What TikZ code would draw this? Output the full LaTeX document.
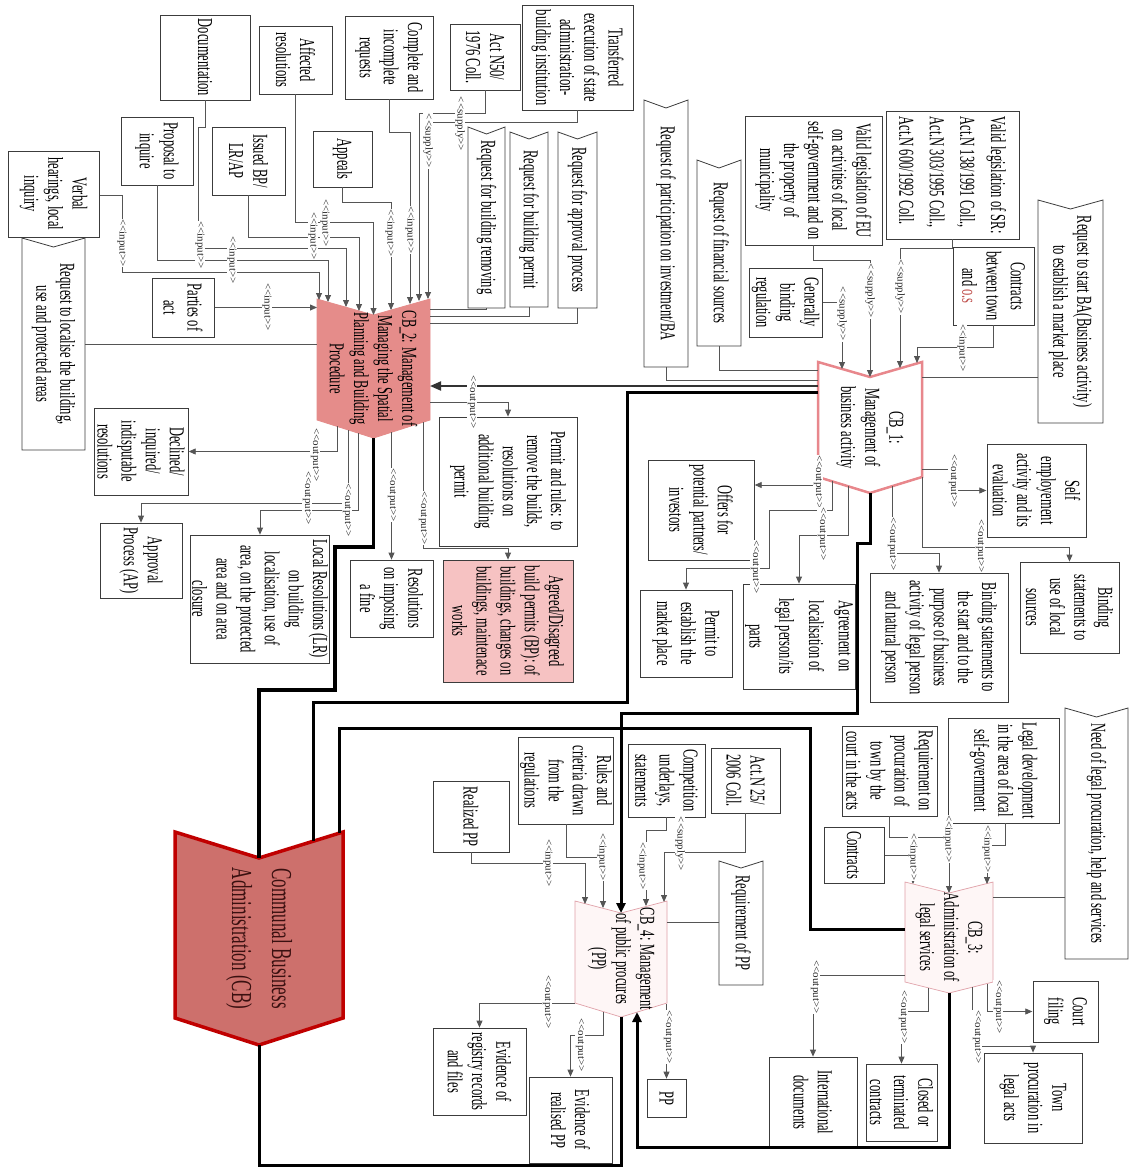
\documentclass[tikz,border=0pt]{standalone}
\usepackage{fontspec}
\setmainfont{Liberation Serif}
\usetikzlibrary{arrows.meta, calc, backgrounds}
\definecolor{cbfill}{HTML}{CD706C}
\definecolor{cbdraw}{HTML}{C00000}
\definecolor{cbtwofill}{HTML}{E58C8A}
\definecolor{cbonedraw}{HTML}{E8878C}
\definecolor{lightfill}{HTML}{FEF6F6}
\definecolor{lightdraw}{HTML}{E0A0A8}
\definecolor{agreedfill}{HTML}{F6C2C2}
\definecolor{cbtext}{HTML}{3A1010}
\definecolor{osred}{HTML}{C0504D}
\definecolor{boxgray}{HTML}{3C3C3C}
\definecolor{linegray}{HTML}{555555}

\begin{document}
\begin{tikzpicture}[x=1pt, y=-1pt,
  box/.style={draw=boxgray, fill=white, line width=0.8pt, rotate=-90, yscale=1.7,
    align=center, inner sep=1pt, font={\fontsize{12.5}{14.2}\selectfont}},
  req/.style={rotate=-90, yscale=1.7, align=center, inner sep=0pt, outer sep=0pt,
    font={\fontsize{12.5}{14.2}\selectfont}},
  chev/.style={rotate=-90, yscale=1.7, align=center, inner sep=0pt, outer sep=0pt,
    font={\fontsize{12.5}{14.2}\selectfont}},
  sz/.style 2 args={minimum width=#2, minimum height=#1/1.7},
  lab/.style={rotate=-90, yscale=0.95, fill=white, inner sep=0.6pt, text=black!85,
    font={\fontsize{11}{12}\selectfont}},
  conn/.style={draw=linegray, line width=0.8pt},
  arr/.style={conn, -{Triangle[length=7pt, width=6pt]}},
  bus/.style={line width=3pt, black},
  busarr/.style={bus, -{Triangle[length=10pt, width=9pt]}},
  bigarr/.style={draw=black!80, line width=2pt, -{Triangle[length=11pt, width=9pt]}}]

\useasboundingbox (0,0) rectangle (1134,1167);

\node[box, sz={90}{85}] (docu) at (205,57.5) {Documentation};
\node[box, sz={73}{68}] (affect) at (295.5,60) {Affected\\resolutions};
\node[box, sz={88}{83}] (compl) at (389,57.5) {Complete and\\incomplete\\requests};
\node[box, sz={70}{66}] (act50) at (485,57) {Act N50/\\1976 Coll.};
\node[box, sz={111}{105}] (transf) at (577.5,57.5) {Transferred\\execution of state\\administration-\\building institution};
\node[box, sz={72}{68}] (propo) at (157,151) {Proposal to\\inquire};
\node[box, sz={73}{68}] (issued) at (248.5,161) {Issued BP/\\LR/AP};
\node[box, sz={59}{56}] (appeal) at (342.5,159) {Appeals};
\node[box, sz={91}{86}] (verbal) at (53.5,194) {Verbal\\hearings, local\\inquiry};
\node[box, sz={62}{59}] (parties) at (183,307.5) {Parties of\\act};
\node[box, sz={94}{87}] (declin) at (141,451.5) {Declined/\\inquired/\\indisputable\\resolutions};
\node[box, sz={82}{75}] (apprp) at (141,560.5) {Approval\\Process (AP)};
\node[box, sz={136}{128}] (localr) at (260,599) {Local Resolutions (LR)\\on building\\localisation, use of\\area, on the protected\\area and on area\\closure};
\node[box, sz={83}{77}] (fine) at (391.5,598.5) {Resolutions\\on imposing\\a fine};
\node[box, sz={138}{129}] (permit) at (508,481.5) {Permit and rules: to\\remove the builds,\\resolutions on\\additional building\\permit};
\node[box, sz={130}{122}, fill=agreedfill] (agreed) at (508,621) {Agreed/Disagreed\\build permits (BP): of\\buildings, changes on\\buildings, maintenace\\works};
\node[box, sz={106}{100}] (offers) at (701,510) {Offers for\\potential partners/\\investors};
\node[box, sz={92}{87}] (pmkt) at (686,633.5) {Permit to\\establish the\\market place};
\node[box, sz={112}{105}, font={\fontsize{12.5}{17.5}\selectfont}] (agree) at (799,636.5) {Agreement on\\localisation of\\legal person/its\\parts};
\node[box, sz={138}{129}] (bindst) at (939,637.5) {Binding statements to\\the start and to the\\purpose of business\\activity of legal person\\and natural person};
\node[box, sz={99}{93}] (selfem) at (1036.5,490.5) {Self\\employement\\activity and its\\evaluation};
\node[box, sz={99}{91}] (bindloc) at (1069.5,607.5) {Binding\\statements to\\use of local\\sources};
\node[box, sz={137}{129}] (valeu) at (813.5,180.5) {Valid legislation of EU\\on activities of local\\self-government and on\\the property of\\municipality};
\node[box, sz={133}{128}, align=left, font={\fontsize{12.5}{18}\selectfont}] (valsr) at (952.5,175) {Valid legislation of SR:\\Act.N 138/1991 Coll.,\\Act.N 303/1995 Coll.,\\Act.N 600/1992 Coll.};
\node[box, sz={73}{69}] (genbind) at (785.5,302.5) {Generally\\binding\\regulation};
\node[box, sz={81}{78}] (contr1) at (993.5,286) {Contracts\\between town\\and {\color{osred}o.s}};
\node[box, sz={111}{105}] (legdev) at (1003.5,770.5) {Legal development\\in the area of local\\self-government};
\node[box, sz={95}{90}] (reqproc) at (889.5,771) {Requirement on\\procuration of\\town by the\\court in the acts};
\node[box, sz={60}{56}] (contr3) at (854,855) {Contracts};
\node[box, sz={65}{61}] (court) at (1065.5,1011.5) {Court\\filing};
\node[box, sz={98}{90}] (townp) at (1033,1098) {Town\\procuration in\\legal acts};
\node[box, sz={71}{77}] (closed) at (901.5,1102.5) {Closed or\\terminated\\contracts};
\node[box, sz={88}{91}] (intdoc) at (813,1102.5) {International\\documents};
\node[box, sz={76}{71}] (realpp) at (471,816.5) {Realized PP};
\node[box, sz={92}{87}] (rules) at (566,780.5) {Rules and\\crietria drawn\\from the\\regulations};
\node[box, sz={77}{73}] (compet) at (666.5,780.5) {Competition\\underlays,\\statements};
\node[box, sz={69}{65}] (act25) at (745.5,780.5) {Act.N 25/\\2006 Coll.};
\node[box, sz={39}{38}] (pp) at (666.5,1098) {PP};
\node[box, sz={93}{87}] (evreg) at (479.5,1071.5) {Evidence of\\registry records\\and files};
\node[box, sz={83}{86}] (evreal) at (570.5,1120) {Evidence of\\realised PP};

\node[req, sz={63}{212}] (reqloc) at (53.5,344) {Request to localise the building,\\use and protected areas};
\node[req, sz={37}{181}] (reqrem) at (486.5,217.5) {Request for building removing};
\node[req, sz={38}{175}] (reqper) at (529,219.5) {Request for building permit};
\node[req, sz={39}{176}] (reqapp) at (577.5,220) {Request for approval process};
\node[req, sz={44}{267}] (reqpart) at (666,233.5) {Request of participation on investment/BA};
\node[req, sz={44}{186}] (reqfin) at (719,253) {Request of financial sources};
\node[req, sz={65}{223}] (reqstart) at (1070.5,311.5) {Request to start BA(Business activity)\\to establish a market place};
\node[req, sz={63}{251}] (needleg) at (1096.5,833.5) {Need of legal procuration, help and services};
\node[req, sz={44}{124}] (reqpp) at (741,923) {Requirement of PP};

\node[chev, sz={113}{139}] (cb2) at (373.5,368.5) {CB\_2: Management of\\Managing the Spatial\\Planning and Building\\Procedure};
\node[chev, sz={104}{131}] (cb1) at (870,427.5) {CB\_1:\\Management of\\business activity};
\node[chev, sz={168}{213}, text=cbtext, font={\fontsize{17}{23.5}\selectfont}] (cb) at (259,938.5) {Communal Business\\Administration (CB)};
\node[chev, sz={92}{116}] (cb4) at (621,959) {CB\_4: Management\\of public procures\\(PP)};
\node[chev, sz={88}{111}] (cb3) at (949,937.5) {CB\_3:\\Administration of\\legal services};

\begin{pgfonlayer}{background}
\fill[white] (0,0) rectangle (1134,1167);
\filldraw[fill=cbfill, draw=cbdraw, line width=3.5pt] (cb.south west) -- ($(cb.west)+(0,26)$) -- (cb.north west) -- ($(cb.north east)+(0,-27)$) -- (cb.east) -- ($(cb.south east)+(0,-27)$) -- cycle;
\filldraw[fill=cbtwofill, draw=cbtwofill, line width=0.8pt] (cb2.south west) -- ($(cb2.west)+(0,16)$) -- (cb2.north west) -- ($(cb2.north east)+(0,-18)$) -- (cb2.east) -- ($(cb2.south east)+(0,-18)$) -- cycle;
\filldraw[fill=white, draw=cbonedraw, line width=2.5pt] (cb1.south west) -- ($(cb1.west)+(0,15)$) -- (cb1.north west) -- ($(cb1.north east)+(0,-16)$) -- (cb1.east) -- ($(cb1.south east)+(0,-16)$) -- cycle;
\filldraw[fill=lightfill, draw=lightdraw, line width=0.7pt] (cb4.south west) -- ($(cb4.west)+(0,12)$) -- (cb4.north west) -- ($(cb4.north east)+(0,-14)$) -- (cb4.east) -- ($(cb4.south east)+(0,-14)$) -- cycle;
\filldraw[fill=lightfill, draw=lightdraw, line width=0.7pt] (cb3.south west) -- ($(cb3.west)+(0,11)$) -- (cb3.north west) -- ($(cb3.north east)+(0,-11)$) -- (cb3.east) -- ($(cb3.south east)+(0,-11)$) -- cycle;
\foreach \r/\d in {reqloc/9, reqrem/7, reqper/7, reqapp/7, reqpart/8, reqfin/8, reqstart/9, needleg/9, reqpp/7}
  \filldraw[fill=white, draw=boxgray, line width=0.8pt] (\r.south west) -- ($(\r.west)+(0,\d)$) -- (\r.north west) -- (\r.north east) -- (\r.south east) -- cycle;
\end{pgfonlayer}

\foreach \n/\x/\y in {c2a/319/300, c2b/328/302, c2c/346/307, c2d/359/311, c2e/373.5/315,
  c2f/391/310, c2g/410/304, c2h/419/301, c2i/428/299,
  c2o3/337/426, c2o4/348/430, c2o5/358/433, c2o6/391.5/432, c2o7/423/422,
  c1a/842/369, c1b/870/377, c1c/900/368, c1d/917/363, c1o2/848/486, c1o3/832/481, c1o4/892/486,
  c4a/585/904, c4b/603/908, c4c/646/906, c4d/664/902, c4n/621/913, c4o2/603/1012, c4o3/666.5/1004, c4q/637/1012,
  c3a/913/884, c3b/949/893, c3c/987/884, c3o2/928/988, c3o3/987/984, c3o4/972/987,
  cbn/259/858, cbr1/313/841, cbr2/339/833}
  \coordinate (\n) at (\x,\y);

\draw[arr] (verbal.north |- 0,195) -| (122,272) -| (c2a);
\draw[arr] (propo.east) -- ++(0,75) -| (c2b);
\draw[arr] (docu.east) -- ++(0,27) -| (198,248) -| (c2c);
\draw[arr] (issued.east) -- ++(0,42) -| (c2d);
\draw[arr] (affect.east) -- ++(0,128) -| (c2e);
\draw[arr] (appeal.east) -- ++(0,15) -| (c2f);
\draw[arr] (compl.east) -- ++(0,33) -| (c2g);
\draw[arr] (act50.east) -- ++(0,23) -| (c2h);
\draw[arr] (transf.east) -- ++(0,12) -| (c2i);
\draw[arr] (parties.north) -- (parties.north -| cb2.south);
\draw[conn] (reqloc.north) -- (reqloc.north -| cb2.south);
\draw[conn] (reqrem.east) |- (cb2.north |- 0,309);
\draw[conn] (reqper.east) |- (cb2.north |- 0,316);
\draw[conn] (reqapp.east) |- (cb2.north |- 0,323);

\draw[bigarr] (cb1.south |- 0,386) -- (cb2.north |- 0,386);
\draw[arr] (cb2.north |- 0,402) -| (permit.west);
\draw[arr] (c2o3) |- (declin.north);
\draw[arr] (c2o4) -- ++(0,73) -| (apprp.west);
\draw[arr] (c2o5) -- ++(0,77) -| (localr.west);
\draw[arr] (c2o6) -- (fine.west);
\draw[arr] (c2o7) -- ++(0,126) -| (agreed.west);

\draw[arr] (genbind.north) -| (c1a);
\draw[arr] (valeu.east) -- ++(0,15) -| (c1b);
\draw[arr] (valsr.east) -- ++(0,9) -| (c1c);
\draw[arr] (contr1.east) -- ++(0,22) -| (c1d);
\draw[conn] (reqstart.south |- 0,377) -- (cb1.north |- 0,377);
\draw[conn] (reqfin.east) |- (cb1.south |- 0,370);
\draw[conn] (reqpart.east) |- (cb1.south |- 0,380);

\draw[arr] (cb1.south |- 0,485) -- (offers.north |- 0,485);
\draw[arr] (c1o2) -- ++(0,49) -| (agree.west);
\draw[arr] (c1o3) -- ++(0,29) -| (769,568) -| (pmkt.west);
\draw[arr] (c1o4) -- ++(0,67) -| (bindst.west);
\draw[arr] (cb1.north |- 0,469) -- ++(31,0) |- (selfem.south);
\draw[arr] (cb1.north |- 0,477) -- ++(0,70) -| (bindloc.west);

\draw[arr] (realpp.east) -- ++(0,11) -| (c4a);
\draw[arr] (rules.east) -- ++(0,33) -| (c4b);
\draw[arr] (compet.east) -- ++(0,13) -| (c4c);
\draw[arr] (act25.east) -- ++(0,39) -| (c4d);
\draw[conn] (reqpp.south |- 0,922) -- (cb4.north |- 0,922);
\draw[arr] (cb4.south |- 0,1003) -| (evreg.west);
\draw[arr] (c4o2) -- ++(0,23) -| (evreal.west);
\draw[arr] (c4o3) -- (pp.west);

\draw[arr] (contr3.north) -| (c3a);
\draw[arr] (reqproc.east) -- ++(0,21) -| (c3b);
\draw[arr] (1005,0 |- legdev.east) -- ++(0,22) -| (c3c);
\draw[conn] (needleg.south |- 0,897) -- (cb3.north |- 0,897);
\draw[arr] (cb3.south |- 0,975) -| (intdoc.west);
\draw[arr] (c3o2) -- ++(0,23) -| (closed.west);
\draw[arr] (c3o3) |- (court.south);
\draw[arr] (c3o4) -- ++(0,59) -| (townp.west);

\draw[bus, line width=3.5pt] (cbn) -- (259,690) -| (335,547) -| (cb2.east);
\draw[bus] (cb1.south |- 0,392) -| (627,702) -| (cbr1);
\draw[bus] (cbr2) |- (810,728) |- (cb3.south |- 0,929);
\draw[busarr] (cb1.east) -- ++(0,50) -| (857,713) -| (c4n);
\draw[bus] (cb.east) -- ++(0,120) -| (cb4.east);
\draw[busarr] (cb3.east) -- ++(0,154) -| (c4q);

\foreach \x/\y/\w [count=\i] in {122/243/input, 200/245/input, 232/260/input, 313/236/input,
  325/223/input, 390/233/input, 410/230/input, 460/124/supply, 428/141/supply, 267/307/input,
  472/402/output, 315/455/output, 307/498/output, 347/510/output, 392/495/output, 423/518/output,
  842/314/supply, 870/291/supply, 900/287/supply, 962/348/input,
  818/482/output, 822/534/output, 755/567/output, 892/544/output, 953/481/output, 980/546/output,
  548/863/input, 602/857/input, 642/866/input, 680/844/supply,
  547/1002/output, 580/1045/output, 668/1037/output,
  913/857/input, 948/839/input, 987/849/input,
  815/987/output, 903/1017/output, 998/1007/output, 977/1037/output}
  \node[lab] (lab\i) at (\x,\y) {<\kern0pt<\w>\kern0pt>};
\end{tikzpicture}
\end{document}
